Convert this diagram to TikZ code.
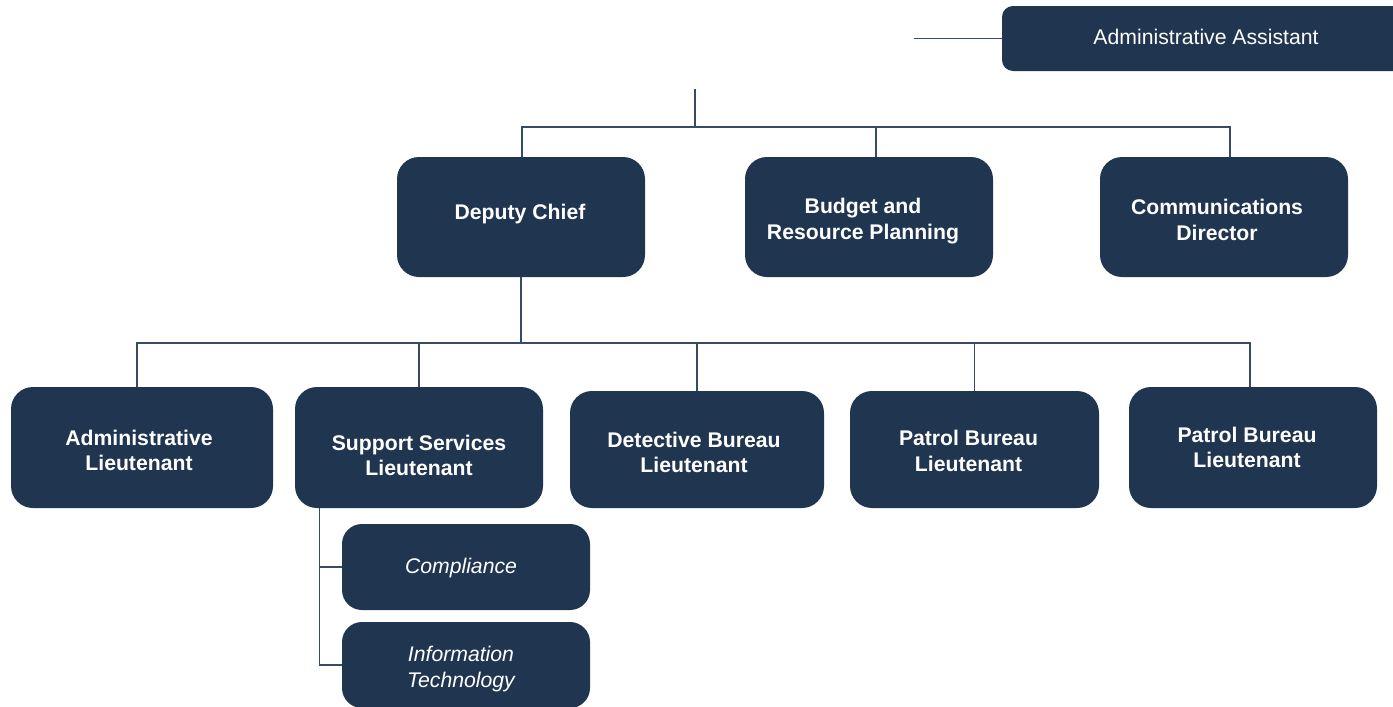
\documentclass[tikz,border=0pt]{standalone}
\usepackage{fontspec}
\setmainfont{Liberation Sans}
\definecolor{navy}{RGB}{32,54,80}
\definecolor{connc}{RGB}{55,75,100}
\begin{document}
\begin{tikzpicture}[x=1pt,y=-1pt,
  box/.style={fill=navy, rounded corners=22pt, inner sep=0pt},
  subbox/.style={box, rounded corners=20pt},
  lbl/.style={text=white, align=center, inner sep=0pt,
    font=\fontsize{21.2}{25.5}\selectfont\bfseries},
  lblr/.style={lbl, font=\fontsize{21.2}{25.5}\selectfont},
  lbli/.style={lbl, font=\fontsize{21.2}{25.5}\selectfont\itshape},
  wire/.style={draw=connc, line width=1.25pt}]
\clip (0,0) rectangle (1393,707);
\fill[white] (0,0) rectangle (1393,707);
% nodes
\node[box, rounded corners=11pt, minimum width=408pt, minimum height=65pt,
  label={[lblr, shift={(0pt,2pt)}]center:Administrative Assistant}] (aa) at (1206,38.5) {};
\node[box, minimum width=248pt, minimum height=120pt,
  label={[lbl, shift={(-1pt,3pt)}]center:Deputy Chief}] (dc) at (521,217) {};
\node[box, minimum width=248pt, minimum height=120pt,
  label={[lbl, shift={(-6pt,-4pt)}]center:{Budget and\\Resource Planning}}] (bud) at (869,217) {};
\node[box, minimum width=248pt, minimum height=120pt,
  label={[lbl, shift={(-7pt,-3pt)}]center:{Communications\\Director}}] (com) at (1224,217) {};
\node[box, minimum width=262pt, minimum height=121pt,
  label={[lbl, shift={(-3pt,-3pt)}]center:{Administrative\\Lieutenant}}] (al) at (142,447.5) {};
\node[box, minimum width=248pt, minimum height=121pt,
  label={[lbl, shift={(0pt,-8pt)}]center:{Support Services\\Lieutenant}}] (ss) at (419,447.5) {};
\node[box, minimum width=254pt, minimum height=117pt,
  label={[lbl, shift={(-3pt,-3pt)}]center:{Detective Bureau\\Lieutenant}}] (db) at (697,449.5) {};
\node[box, minimum width=249pt, minimum height=117pt,
  label={[lbl, shift={(-6pt,-1.5pt)}]center:{Patrol Bureau\\Lieutenant}}] (pb) at (974.5,449.5) {};
\node[box, minimum width=248pt, minimum height=121pt,
  label={[lbl, shift={(-6pt,0pt)}]center:{Patrol Bureau\\Lieutenant}}] (pb2) at (1253,447.5) {};
\node[subbox, minimum width=248pt, minimum height=86pt,
  label={[lbli, shift={(-5pt,-1pt)}]center:Compliance}] (comp) at (466,567) {};
\node[subbox, minimum width=248pt, minimum height=86pt,
  label={[lbli, shift={(-5pt,-4pt)}]center:{Information\\Technology}}] (it) at (466,665) {};
% connectors
\coordinate (aa0) at (914,38.5);
\draw[wire] (aa0) -- (aa.west);
\coordinate (t0) at (695,89);
\coordinate (j1) at (695,127);
\draw[wire] (t0) -- (j1);
\draw[wire] ([xshift=1pt]dc.north) |- (j1) -| ([xshift=6pt]com.north);
\draw[wire] ([xshift=7pt]bud.north) -- ([xshift=7pt]bud.north |- j1);
\coordinate (j2) at (521,343);
\draw[wire] (dc.south) -- (j2);
\draw[wire] ([xshift=-5pt]al.north) |- (j2) -| ([xshift=-3pt]pb2.north);
\draw[wire] (ss.north) -- (ss.north |- j2);
\draw[wire] (db.north) -- (db.north |- j2);
\draw[wire] (pb.north) -- (pb.north |- j2);
\coordinate (b0) at ([xshift=25pt]ss.south west);
\draw[wire] (b0) |- (it.west);
\draw[wire] (b0 |- comp.west) -- (comp.west);
\end{tikzpicture}
\end{document}
